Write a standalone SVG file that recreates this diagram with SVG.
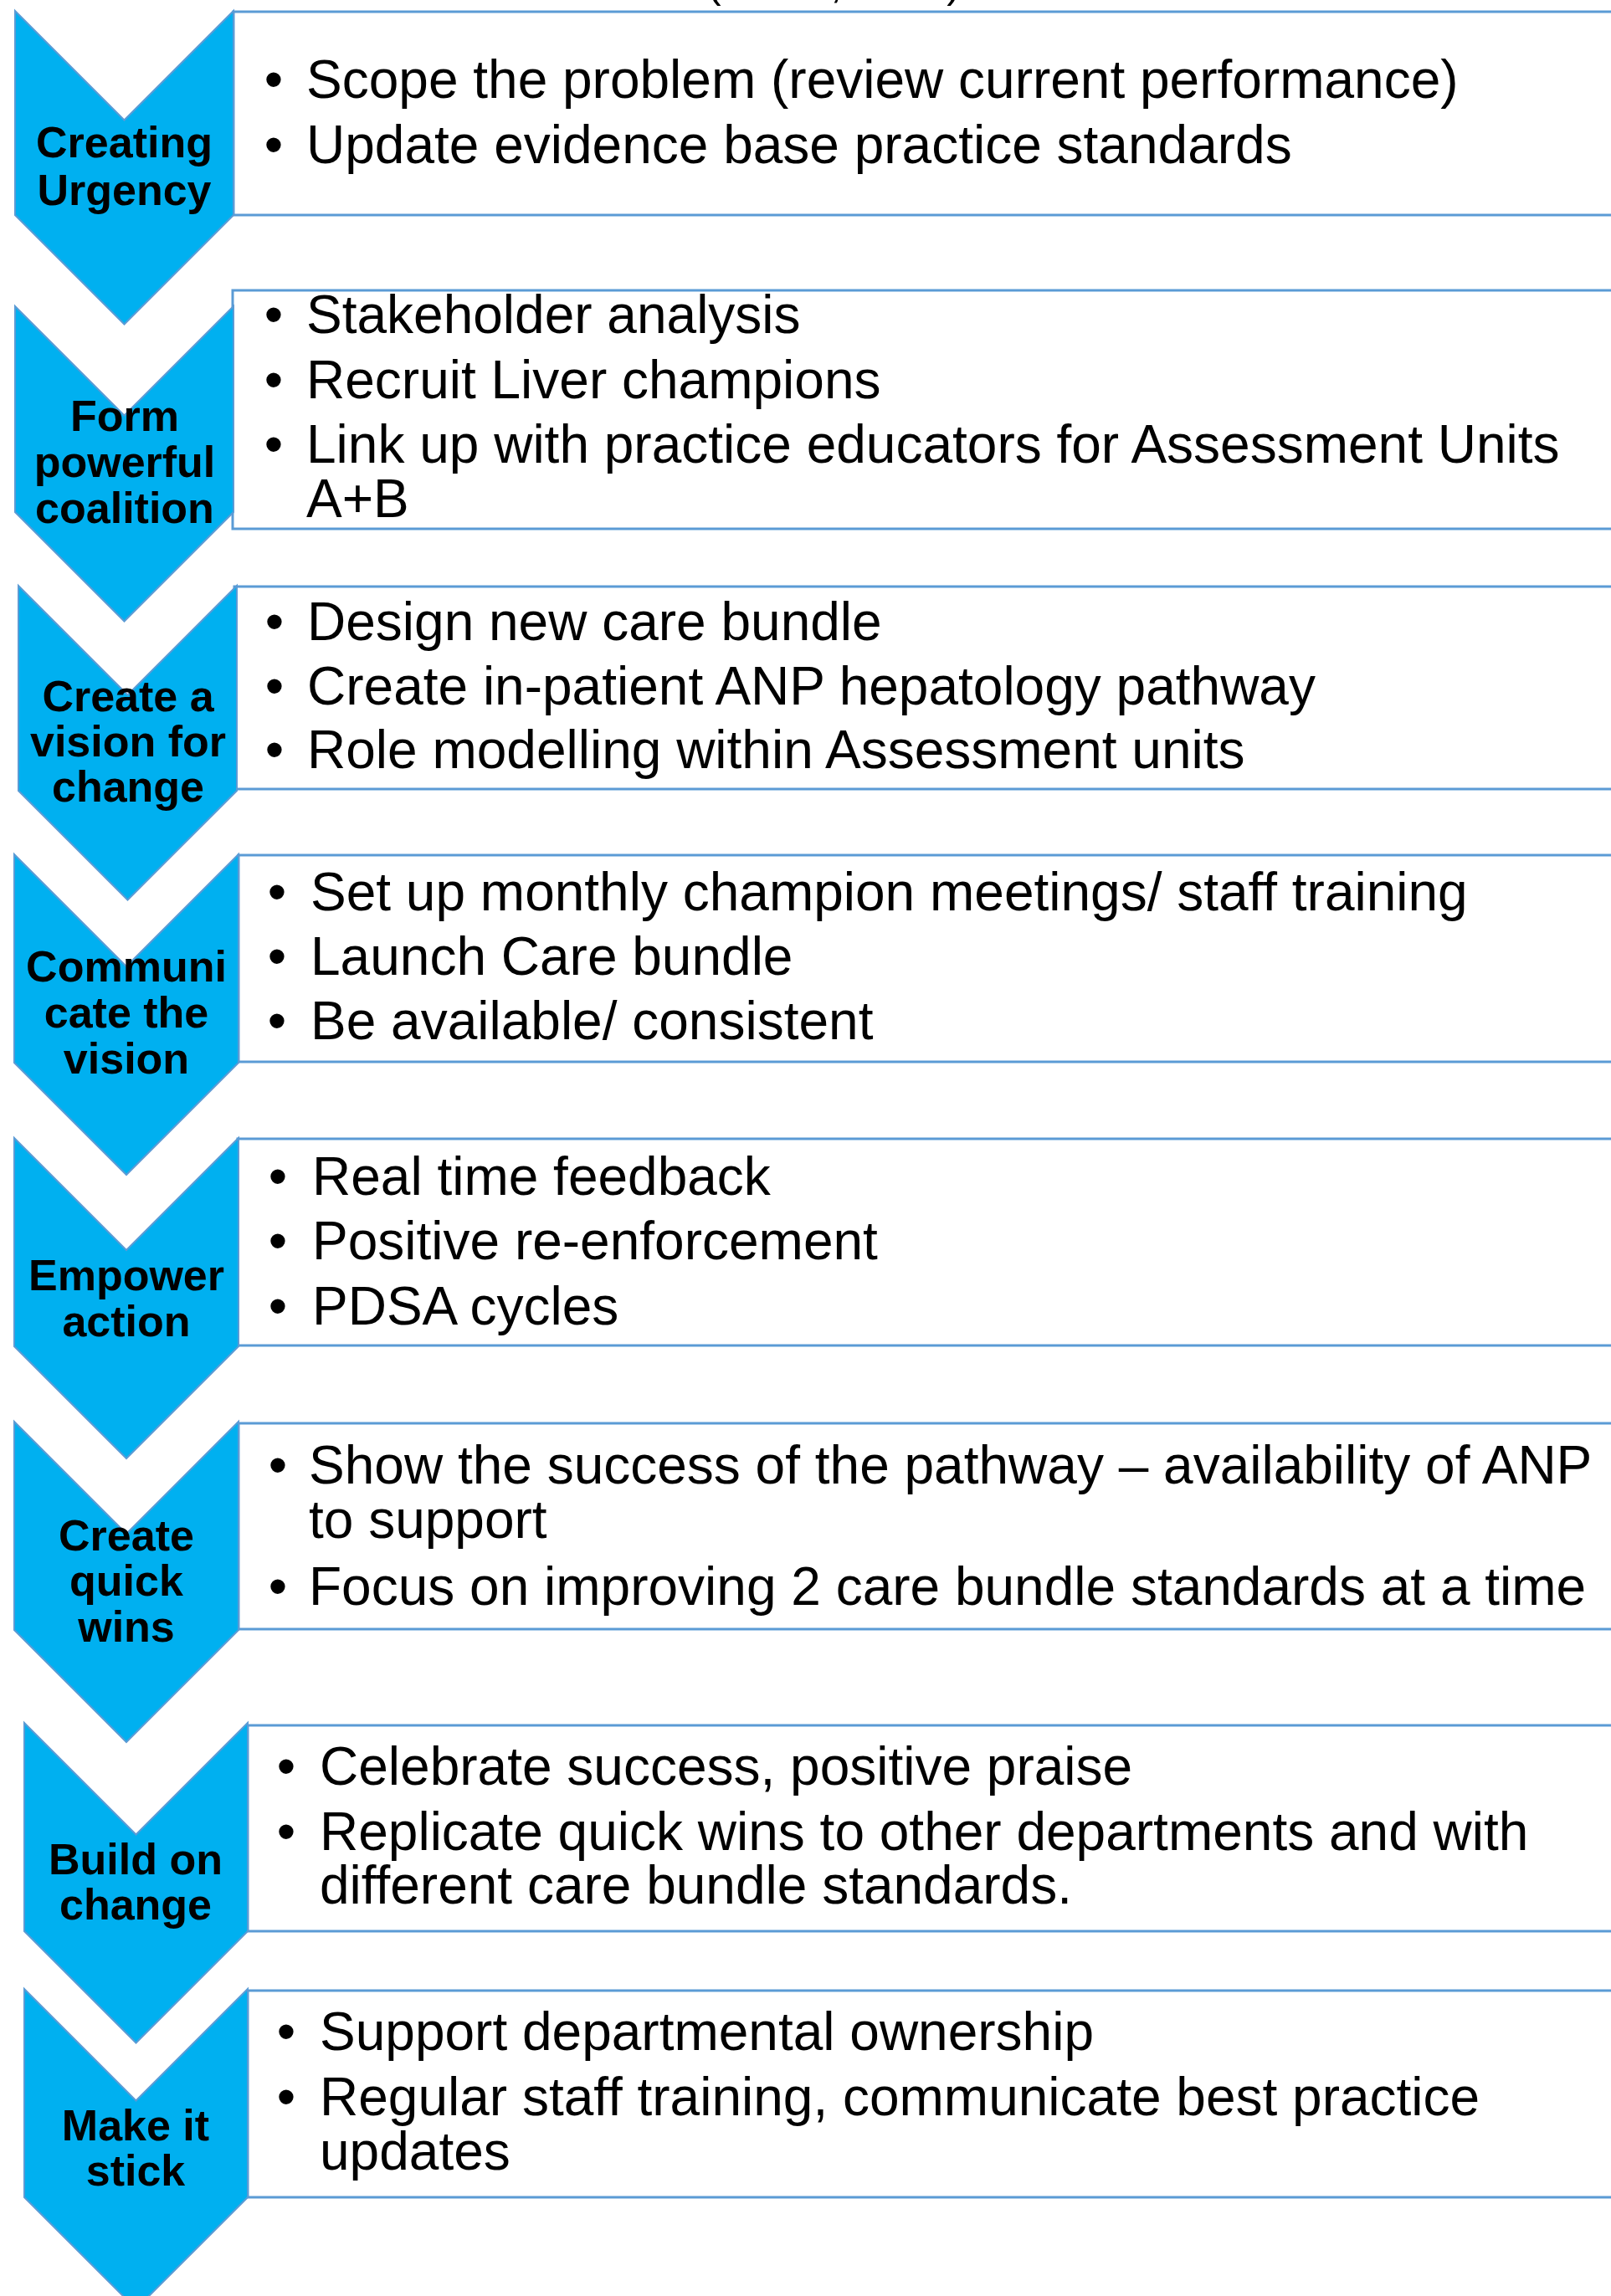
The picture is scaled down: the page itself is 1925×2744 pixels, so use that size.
<svg xmlns="http://www.w3.org/2000/svg" width="1925" height="2744" viewBox="0 0 1925 2744">
<style>
.chev{fill:#00B0F0;stroke:#5B9BD5;stroke-width:2;stroke-linejoin:miter}
.box{fill:#FFFFFF;stroke:#5B9BD5;stroke-width:3}
.lbl{font-family:"Liberation Sans",Arial,sans-serif;font-weight:bold;font-size:52px;fill:#000;text-anchor:middle}
.txt{font-family:"Liberation Sans",Arial,sans-serif;font-size:64px;fill:#000}
.bul{font-family:"Liberation Sans",Arial,sans-serif;font-size:64px;fill:#000;text-anchor:middle}
</style>
<rect x="0" y="0" width="1925" height="2744" fill="#FFFFFF"/>
<text class="txt" x="845" y="-3" style="font-size:50px">(Kotter, 1996)</text>
<g id="connectors"/>

<g id="step1">
<rect class="box" x="279" y="14" width="1700" height="243"/>
<path class="chev" d="M18,13 L148.5,143.5 L279,13 L279,257 L148.5,387.5 L18,257 Z"/>
<text class="lbl" x="148.5" y="188">Creating</text>
<text class="lbl" x="148.5" y="245">Urgency</text>
<text class="bul" x="327" y="117">•</text><text class="txt" x="366" y="117">Scope the problem (review current performance)</text>
<text class="bul" x="327" y="195">•</text><text class="txt" x="366" y="195">Update evidence base practice standards</text>
</g>

<g id="step2">
<rect class="box" x="278" y="347" width="1700" height="285"/>
<path class="chev" d="M18,366 L148.5,496.5 L279,366 L279,612 L148.5,742.5 L18,612 Z"/>
<text class="lbl" x="149" y="515">Form</text>
<text class="lbl" x="149" y="570">powerful</text>
<text class="lbl" x="149" y="625">coalition</text>
<text class="bul" x="327" y="398">•</text><text class="txt" x="366" y="398">Stakeholder analysis</text>
<text class="bul" x="327" y="476">•</text><text class="txt" x="366" y="476">Recruit Liver champions</text>
<text class="bul" x="327" y="553">•</text><text class="txt" x="366" y="553">Link up with practice educators for Assessment Units</text>
<text class="txt" x="366" y="618">A+B</text>
</g>

<g id="step3">
<rect class="box" x="280" y="701" width="1700" height="242"/>
<path class="chev" d="M22,700 L152.5,830.5 L283,700 L283,945 L152.5,1075.5 L22,945 Z"/>
<text class="lbl" x="153" y="850">Create a</text>
<text class="lbl" x="153" y="904">vision for</text>
<text class="lbl" x="153" y="958">change</text>
<text class="bul" x="328" y="765">•</text><text class="txt" x="367" y="765">Design new care bundle</text>
<text class="bul" x="328" y="842">•</text><text class="txt" x="367" y="842">Create in-patient ANP hepatology pathway</text>
<text class="bul" x="328" y="918">•</text><text class="txt" x="367" y="918">Role modelling within Assessment units</text>
</g>

<g id="step4">
<rect class="box" x="285" y="1022" width="1700" height="247"/>
<path class="chev" d="M17,1021 L151,1155 L285,1021 L285,1270 L151,1404 L17,1270 Z"/>
<text class="lbl" x="151" y="1173">Communi</text>
<text class="lbl" x="151" y="1228">cate the</text>
<text class="lbl" x="151" y="1283">vision</text>
<text class="bul" x="331" y="1088">•</text><text class="txt" x="371" y="1088">Set up monthly champion meetings/ staff training</text>
<text class="bul" x="331" y="1165">•</text><text class="txt" x="371" y="1165">Launch Care bundle</text>
<text class="bul" x="331" y="1242">•</text><text class="txt" x="371" y="1242">Be available/ consistent</text>
</g>

<g id="step5">
<rect class="box" x="284" y="1361" width="1700" height="247"/>
<path class="chev" d="M17,1360 L151,1494 L285,1360 L285,1609 L151,1743 L17,1609 Z"/>
<text class="lbl" x="151" y="1542">Empower</text>
<text class="lbl" x="151" y="1597">action</text>
<text class="bul" x="332" y="1428">•</text><text class="txt" x="373" y="1428">Real time feedback</text>
<text class="bul" x="332" y="1505">•</text><text class="txt" x="373" y="1505">Positive re-enforcement</text>
<text class="bul" x="332" y="1583">•</text><text class="txt" x="373" y="1583">PDSA cycles</text>
</g>

<g id="step6">
<rect class="box" x="285" y="1701" width="1700" height="246"/>
<path class="chev" d="M17,1699 L151,1833 L285,1699 L285,1948 L151,2082 L17,1948 Z"/>
<text class="lbl" x="151" y="1853">Create</text>
<text class="lbl" x="151" y="1907">quick</text>
<text class="lbl" x="151" y="1962">wins</text>
<text class="bul" x="332" y="1773">•</text><text class="txt" x="369" y="1773">Show the success of the pathway – availability of ANP</text>
<text class="txt" x="369" y="1838">to support</text>
<text class="bul" x="332" y="1918">•</text><text class="txt" x="369" y="1918">Focus on improving 2 care bundle standards at a time</text>
</g>

<g id="step7">
<rect class="box" x="296" y="2062" width="1700" height="246"/>
<path class="chev" d="M29,2059 L162.5,2192.5 L296,2059 L296,2308 L162.5,2441.5 L29,2308 Z"/>
<text class="lbl" x="162" y="2240">Build on</text>
<text class="lbl" x="162" y="2294">change</text>
<text class="bul" x="342" y="2133">•</text><text class="txt" x="382" y="2133">Celebrate success, positive praise</text>
<text class="bul" x="342" y="2211">•</text><text class="txt" x="382" y="2211">Replicate quick wins to other departments and with</text>
<text class="txt" x="382" y="2275">different care bundle standards.</text>
</g>

<g id="step8">
<rect class="box" x="296" y="2379" width="1700" height="247"/>
<path class="chev" d="M29,2377 L162.5,2510.5 L296,2377 L296,2626 L162.5,2759.5 L29,2626 Z"/>
<text class="lbl" x="162" y="2558">Make it</text>
<text class="lbl" x="162" y="2612">stick</text>
<text class="bul" x="342" y="2450">•</text><text class="txt" x="382" y="2450">Support departmental ownership</text>
<text class="bul" x="342" y="2528">•</text><text class="txt" x="382" y="2528">Regular staff training, communicate best practice</text>
<text class="txt" x="382" y="2593">updates</text>
</g>
</svg>
